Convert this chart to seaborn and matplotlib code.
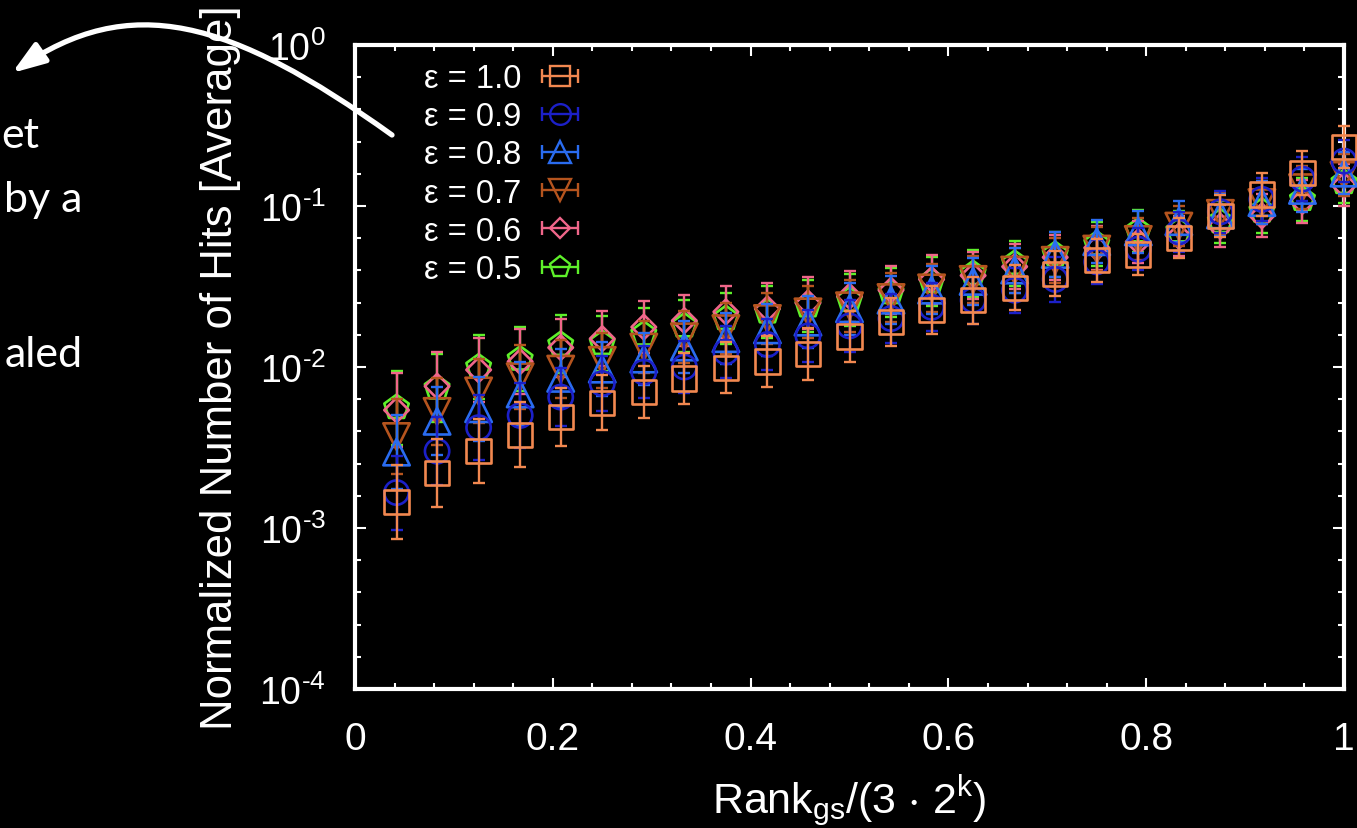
import numpy as np
import matplotlib
matplotlib.use("Agg")
import matplotlib.pyplot as plt
import seaborn as sns
from matplotlib.lines import Line2D
from matplotlib.legend_handler import HandlerLine2D, HandlerTuple
from matplotlib.path import Path
from matplotlib.patches import FancyArrowPatch
from matplotlib.ticker import FixedLocator, MultipleLocator, FuncFormatter

# ---- data -------------------------------------------------------------
rank = [0.042, 0.083, 0.125, 0.167, 0.208, 0.250, 0.292, 0.333, 0.375, 0.417,
        0.458, 0.500, 0.542, 0.583, 0.625, 0.667, 0.708, 0.750, 0.792, 0.833,
        0.875, 0.917, 0.958, 1.000]

eps_labels = ["ε = 1.0", "ε = 0.9", "ε = 0.8", "ε = 0.7", "ε = 0.6", "ε = 0.5"]

hits_10 = [1.45e-3, 2.2e-3, 3.0e-3, 3.8e-3, 4.9e-3, 6.0e-3, 7.0e-3, 8.5e-3, 9.9e-3, 1.08e-2,
           1.2e-2, 1.55e-2, 1.9e-2, 2.25e-2, 2.6e-2, 3.1e-2, 3.8e-2, 4.6e-2, 5.0e-2, 6.3e-2,
           8.7e-2, 0.118, 0.16, 0.232]
hits_09 = [1.66e-3, 3.0e-3, 4.2e-3, 5.0e-3, 6.5e-3, 7.9e-3, 9.3e-3, 1.0e-2, 1.24e-2, 1.38e-2,
           1.56e-2, 1.8e-2, 2.0e-2, 2.35e-2, 2.6e-2, 3.0e-2, 3.5e-2, 4.5e-2, 5.4e-2, 6.9e-2,
           9.2e-2, 0.11, 0.147, 0.19]
hits_08 = [2.96e-3, 4.6e-3, 5.5e-3, 6.8e-3, 8.5e-3, 9.7e-3, 1.12e-2, 1.33e-2, 1.5e-2, 1.7e-2,
           1.9e-2, 2.3e-2, 2.6e-2, 3.0e-2, 3.4e-2, 4.0e-2, 5.0e-2, 6.0e-2, 6.9e-2, 8.0e-2,
           8.8e-2, 0.105, 0.125, 0.16]
hits_07 = [3.7e-3, 5.3e-3, 7.1e-3, 8.7e-3, 9.7e-3, 1.1e-2, 1.33e-2, 1.54e-2, 1.73e-2, 2.0e-2,
           2.2e-2, 2.4e-2, 2.7e-2, 3.1e-2, 3.5e-2, 4.0e-2, 4.6e-2, 5.4e-2, 6.2e-2, 7.5e-2,
           9.0e-2, 0.105, 0.13, 0.155]
hits_06 = [5.4e-3, 7.6e-3, 9.6e-3, 1.08e-2, 1.32e-2, 1.5e-2, 1.77e-2, 1.94e-2, 2.2e-2, 2.3e-2,
           2.5e-2, 2.75e-2, 3.0e-2, 3.5e-2, 3.7e-2, 4.2e-2, 4.8e-2, 5.5e-2, 6.0e-2, 6.5e-2,
           7.5e-2, 8.7e-2, 0.107, 0.135]
hits_05 = [5.6e-3, 7.4e-3, 1.0e-2, 1.12e-2, 1.38e-2, 1.4e-2, 1.6e-2, 1.8e-2, 2.0e-2, 2.2e-2,
           2.4e-2, 2.6e-2, 2.9e-2, 3.4e-2, 3.8e-2, 4.4e-2, 5.0e-2, 5.8e-2, 7.0e-2, 7.0e-2,
           8.0e-2, 9.3e-2, 0.11, 0.14]

# half-width of the error bars, in decades
log_err = [0.23, 0.21, 0.20, 0.20, 0.18, 0.17, 0.16, 0.16, 0.16, 0.16,
           0.16, 0.16, 0.15, 0.15, 0.145, 0.14, 0.14, 0.135, 0.13, 0.125,
           0.13, 0.135, 0.135, 0.13]

series = [hits_10, hits_09, hits_08, hits_07, hits_06, hits_05]

# ---- style ------------------------------------------------------------
colors = ["#f28850", "#1c20c8", "#2a6cf0", "#b5541e", "#f0668a", "#5ef02a"]
markers = ["s", "o", "^", "v", "D", "p"]
msizes = [17.5, 17.5, 19, 19, 12.5, 18.5]

sns.set_theme(style="ticks", rc={
    "figure.facecolor": "black",
    "axes.facecolor": "black",
    "axes.edgecolor": "white",
    "axes.labelcolor": "white",
    "text.color": "white",
    "xtick.color": "white",
    "ytick.color": "white",
    "axes.linewidth": 3,
    "mathtext.fontset": "custom",
    "mathtext.rm": "Liberation Sans",
    "mathtext.it": "Liberation Sans:italic",
    "mathtext.default": "regular",
})
plt.rcParams["font.family"] = ["Liberation Sans", "DejaVu Sans"]

W, H = 1357, 829
fig = plt.figure(figsize=(W / 100, H / 100), dpi=100)
ax = fig.add_axes([355 / W, 1 - 690 / H, (1344 - 355) / W, (690 - 46) / H])

x = np.array(rank)
err = np.array(log_err)
handles = []
n = len(series)
for i, (vals, lab, c, m, ms) in enumerate(zip(series, eps_labels, colors, markers, msizes)):
    y = np.array(vals)
    lo = y - y * 10 ** (-err)
    hi = y * 10 ** err - y
    z = 3 + 2 * (n - i)  # ε = 1.0 drawn on top
    eb = ax.errorbar(x, y, yerr=[lo, hi], fmt="none", ecolor=c, elinewidth=1.7,
                     capsize=4, capthick=1.7, clip_on=False, zorder=z)
    for a in eb.lines[1] + eb.lines[2]:
        a.set_clip_on(False)
    sns.scatterplot(x=x, y=y, ax=ax, marker=m, s=ms ** 2, color=c,
                    facecolor="none", edgecolor=c, linewidth=1.9,
                    clip_on=False, zorder=z + 1, legend=False)
    cap_line = Line2D([], [], color=c, lw=1.7, marker="|", markersize=10,
                      markeredgewidth=1.7)
    mark = Line2D([], [], color=c, lw=0, marker=m, markersize=ms * 0.85,
                  markerfacecolor="none", markeredgewidth=1.7)
    handles.append((cap_line, mark))

ax.set_yscale("log")
ax.set_ylim(1e-4, 1)
ax.set_xlim(0, 1)


def decade_label(v, pos):
    e = int(round(np.log10(v)))
    return "$10^{%s}$" % str(e).replace("-", "\u2010")


ax.xaxis.set_major_locator(MultipleLocator(0.2))
ax.xaxis.set_minor_locator(MultipleLocator(0.04))
ax.xaxis.set_major_formatter(FuncFormatter(lambda v, p: f"{v:g}"))
ax.yaxis.set_major_locator(FixedLocator([1e-4, 1e-3, 1e-2, 1e-1, 1e0]))
ax.yaxis.set_minor_locator(FixedLocator(
    [10 ** (e + f) for e in range(-4, 0) for f in (0.2, 0.4, 0.6, 0.8)]))
ax.yaxis.set_major_formatter(FuncFormatter(decade_label))

ax.tick_params(which="both", direction="in", top=True, right=True, width=1.5)
ax.tick_params(which="major", length=8)
ax.tick_params(which="minor", length=4)
ax.tick_params(axis="x", which="major", labelsize=28, pad=23)
ax.tick_params(axis="y", which="major", labelsize=27, pad=21)

ax.set_ylabel("Normalized Number of Hits [Average]", fontsize=31.5, labelpad=13)
ax.set_xlabel(r"Rank$_{gs}$/(3 $\cdot$ 2$^{k}$)", fontsize=31, labelpad=11)

hmap = {}
for cap_line, mark in handles:
    hmap[cap_line] = HandlerLine2D(numpoints=2, marker_pad=0)
    hmap[mark] = HandlerLine2D(numpoints=1)
hmap[tuple] = HandlerTuple(ndivide=1)
leg = ax.legend(handles, eps_labels, handler_map=hmap, loc="upper left",
                bbox_to_anchor=(0.070, 0.972), frameon=False, markerfirst=False,
                fontsize=23.5, labelspacing=0.22, handlelength=1.1,
                handletextpad=0.62, borderpad=0, borderaxespad=0)

# slide fragments to the left of the plot
fig.text(1 / W, 1 - 148 / H, "et", ha="left", va="baseline", fontsize=31,
         family=["Lato", "DejaVu Sans"], color="white")
for s, xr, yb in [("by a", 82, 212), ("aled", 83, 367)]:
    fig.text(xr / W, 1 - yb / H, s, ha="right", va="baseline", fontsize=31,
             family=["Lato", "DejaVu Sans"], color="white")

# curved arrow pointing at the slide text
pts = [(392, 136), (230, 20), (130, -8), (12, 74)]
verts = [(px / W, 1 - py / H) for px, py in pts]
arrow = FancyArrowPatch(path=Path(verts, [Path.MOVETO, Path.CURVE4, Path.CURVE4, Path.CURVE4]),
                        arrowstyle="-|>,head_length=20,head_width=7",
                        mutation_scale=1, lw=3.8, color="white",
                        transform=fig.transFigure)
fig.add_artist(arrow)

fig.savefig("out.png", dpi=100, facecolor="black")
